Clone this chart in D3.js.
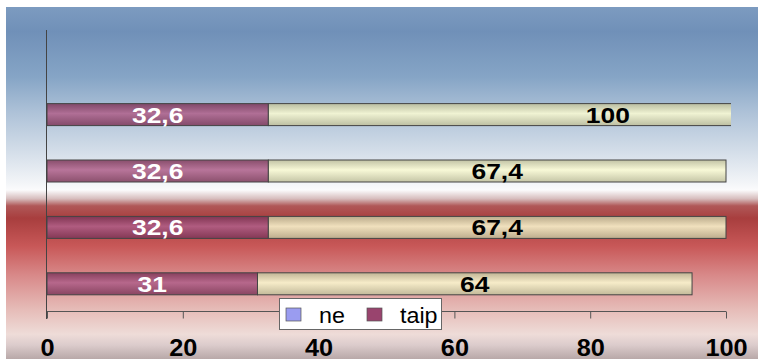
<!DOCTYPE html>
<html><head><meta charset="utf-8">
<script src="https://cdn.jsdelivr.net/npm/d3@7"></script>
<style>html,body{margin:0;padding:0;background:#fff;}svg{display:block;}</style>
</head><body>
<script>
// ---- data ----
const categories = ["0", "1", "2", "3", "4"];   // top slot is empty
const taip = [0, 32.6, 32.6, 32.6, 31];
const ne = [0, 100, 67.4, 67.4, 64];
const taipLabels = ["", "32,6", "32,6", "32,6", "31"];
const neLabels = ["", "100", "67,4", "67,4", "64"];
const xTicks = [0, 20, 40, 60, 80, 100];
const seriesNames = ["ne", "taip"];

const W = 758, H = 359;
const svg = d3.select("body").append("svg").attr("width", W).attr("height", H);
const defs = svg.append("defs");

// background gradient
const bg = defs.append("linearGradient").attr("id","bg").attr("x1",0).attr("y1",0).attr("x2",0).attr("y2",1);
[[0,"#7c9bc0"],[0.07,"#7090b8"],[0.2,"#86a5c6"],[0.3,"#aec2d8"],[0.4,"#d0dbe7"],[0.5,"#f3f5f8"],[0.52,"#fbfbfc"],[0.545,"#d6bcbc"],[0.565,"#b05858"],[0.6,"#a83e3e"],[0.68,"#c85858"],[0.76,"#d88888"],[0.86,"#e6bcb8"],[0.93,"#eedcd8"],[0.96,"#dccccc"],[1,"#b8a8a8"]]
  .forEach(([o,c]) => bg.append("stop").attr("offset",o).attr("stop-color",c));
svg.append("rect").attr("x",6).attr("y",7).attr("width",W-6).attr("height",H-7).attr("fill","url(#bg)");

// bar gradients
function barGrad(id, edge, mid){
  const g = defs.append("linearGradient").attr("id",id).attr("x1",0).attr("y1",0).attr("x2",0).attr("y2",1);
  g.append("stop").attr("offset",0).attr("stop-color",edge);
  g.append("stop").attr("offset",0.45).attr("stop-color",mid);
  g.append("stop").attr("offset",1).attr("stop-color",edge);
}
barGrad("gTaip","#7a3456","#b0608a");
barGrad("gNe","#bdbd98","#fbfbd2");

const x = d3.scaleLinear().domain([0,100]).range([47,726]);
const y = d3.scaleBand().domain(categories).range([30,312]).paddingInner(0.61).paddingOuter(0.305);

defs.append("clipPath").attr("id","plot").append("rect")
  .attr("x",x(0)).attr("y",30).attr("width",731-x(0)).attr("height",282);

const rows = categories.map((c,i)=>({c, taip:taip[i], ne:ne[i], tl:taipLabels[i], nl:neLabels[i]})).filter(d=>d.taip>0);

const gBars = svg.append("g").attr("clip-path","url(#plot)");
gBars.selectAll(".t").data(rows).join("rect")
  .attr("x",x(0)).attr("y",d=>y(d.c)).attr("width",d=>x(d.taip)-x(0)).attr("height",y.bandwidth())
  .attr("fill","url(#gTaip)").attr("fill-opacity",0.85).attr("stroke","#444").attr("stroke-width",1);
gBars.selectAll(".n").data(rows).join("rect")
  .attr("x",d=>x(d.taip)).attr("y",d=>y(d.c)).attr("width",d=>x(d.taip+d.ne)-x(d.taip)).attr("height",y.bandwidth())
  .attr("fill","url(#gNe)").attr("fill-opacity",0.85).attr("stroke","#444").attr("stroke-width",1);

// labels
const fnt = "'Liberation Sans', Arial, sans-serif";
svg.selectAll(".tl").data(rows).join("text")
  .attr("transform",d=>`translate(${x(d.taip/2)},${y(d.c)+y.bandwidth()/2+8}) scale(1.2,1)`)
  .attr("text-anchor","middle").attr("font-family",fnt).attr("font-weight","bold").attr("font-size",22)
  .attr("fill","#fff").text(d=>d.tl);
svg.selectAll(".nl").data(rows).join("text")
  .attr("transform",d=>`translate(${x(d.taip+d.ne/2)},${y(d.c)+y.bandwidth()/2+8}) scale(1.2,1)`)
  .attr("text-anchor","middle").attr("font-family",fnt).attr("font-weight","bold").attr("font-size",22)
  .attr("fill","#000").text(d=>d.nl);

// axes
const xAxis = svg.append("g").attr("transform","translate(0,311.5)")
  .call(d3.axisBottom(x).tickValues(xTicks).tickSize(7).tickPadding(21).tickFormat(d3.format("d")));
xAxis.select(".domain").attr("stroke","#555").attr("d","M"+x(0)+",0H"+x(100));
xAxis.selectAll(".tick line").attr("stroke","#555");
xAxis.selectAll(".tick text").attr("font-family",fnt).attr("font-weight","bold").attr("font-size",23)
  .attr("fill","#000").attr("dy","0.71em").attr("transform","scale(1.1,1)");

svg.append("line").attr("x1",46.5).attr("x2",46.5).attr("y1",30).attr("y2",319).attr("stroke","#444");

// legend
const lg = svg.append("g");
lg.append("rect").attr("x",279.5).attr("y",298.5).attr("width",162).attr("height",31).attr("fill","#fff").attr("stroke","#666");
const legendFill = {"ne":"#9a9cf0","taip":"#99446e"};
const legendX = {"ne":286,"taip":367};
seriesNames.forEach(s=>{
  lg.append("rect").attr("x",legendX[s]).attr("y",308).attr("width",15).attr("height",13)
    .attr("fill",legendFill[s]).attr("stroke","#555").attr("stroke-width",0.7);
  lg.append("text").attr("transform",`translate(${legendX[s]+33},323) scale(1.06,1)`)
    .attr("font-family",fnt).attr("font-size",22).attr("fill","#000").text(s);
});
</script>
</body></html>
